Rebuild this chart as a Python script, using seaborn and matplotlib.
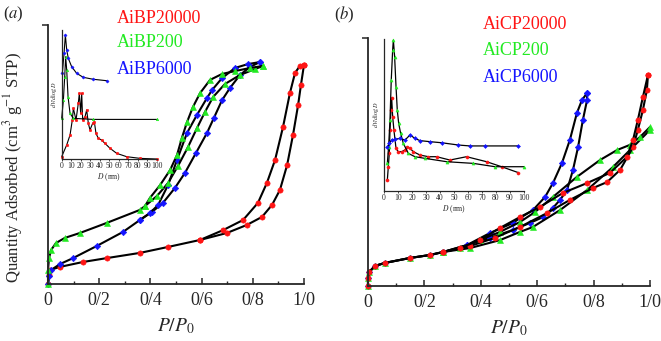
import matplotlib
matplotlib.use("Agg")
import matplotlib.pyplot as plt
import seaborn as sns

sns.set_style("ticks")
plt.rcParams['font.family'] = ['Liberation Serif', 'DejaVu Serif']
plt.rcParams['mathtext.fontset'] = 'stix'

RED = '#ff1414'
GREEN = '#22ea22'
BLUE = '#1414ff'

# ---- panel (a): AiBP isotherms (P/P0, quantity adsorbed, arbitrary units) ----
bp20000_ads_p = [0, 0.004, 0.008, 0.047, 0.137, 0.230, 0.359, 0.469, 0.594, 0.699, 0.777,
                 0.836, 0.875, 0.906, 0.934, 0.957, 0.977, 0.988, 1.0]
bp20000_ads_v = [0, 3.5, 5.4, 6.6, 8.5, 10.0, 12.0, 14.3, 17.0, 19.7, 22.8,
                 25.9, 30.5, 36.3, 45.9, 57.5, 69.1, 76.8, 84.6]
bp20000_des_p = [1.0, 0.984, 0.965, 0.945, 0.918, 0.887, 0.855, 0.820, 0.762, 0.684, 0.594]
bp20000_des_v = [84.6, 84.2, 81.5, 73.7, 60.6, 47.9, 39.0, 31.3, 24.7, 20.8, 17.0]

bp200_ads_p = [0, 0, 0.004, 0.012, 0.031, 0.066, 0.125, 0.230, 0.359, 0.379, 0.426, 0.469,
               0.508, 0.547, 0.582, 0.613, 0.645, 0.691, 0.750, 0.809, 0.840]
bp200_ads_v = [0, 5.4, 10.0, 13.1, 15.8, 17.8, 19.7, 23.6, 28.6, 30.1, 34.0, 39.0,
               45.6, 52.9, 60.2, 66.4, 72.2, 77.2, 80.7, 83.0, 84.2]
bp200_des_p = [0.840, 0.789, 0.730, 0.680, 0.633, 0.594, 0.566, 0.543, 0.523, 0.504,
               0.477, 0.438, 0.398, 0.379]
bp200_des_v = [84.2, 83.4, 82.2, 81.1, 78.8, 73.7, 68.3, 62.5, 56.4, 49.8,
               44.0, 38.2, 33.2, 30.1]

bp6000_ads_p = [0, 0.004, 0.012, 0.047, 0.098, 0.191, 0.293, 0.359, 0.406, 0.449, 0.496,
                0.535, 0.578, 0.621, 0.648, 0.680, 0.711, 0.750, 0.789, 0.828]
bp6000_ads_v = [0, 3.1, 5.4, 7.7, 10.0, 14.7, 20.1, 24.7, 27.8, 31.3, 37.1,
                42.9, 50.6, 58.3, 64.1, 71.0, 75.7, 80.7, 83.8, 85.7]
bp6000_des_p = [0.828, 0.781, 0.730, 0.680, 0.641, 0.621, 0.582, 0.543, 0.504, 0.469,
                0.430, 0.398, 0.359]
bp6000_des_v = [85.7, 84.9, 83.4, 79.5, 74.9, 71.8, 65.3, 58.3, 47.9, 38.2,
                30.5, 27.4, 24.7]

# ---- panel (b): AiCP isotherms ----
low_p = [0, 0, 0.004, 0.025, 0.060, 0.149, 0.220, 0.266]
low_v = [0, 3.2, 5.6, 8.1, 9.3, 11.3, 12.5, 13.7]

cp20000_ads_p = low_p + [0.362, 0.450, 0.539, 0.635, 0.716, 0.798, 0.848, 0.894, 0.940,
                         0.957, 0.975, 0.989, 0.993]
cp20000_ads_v = low_v + [16.1, 19.4, 23.8, 29.4, 34.7, 39.5, 41.9, 46.8, 56.0,
                         62.9, 71.0, 79.0, 85.1]
cp20000_des_p = [0.993, 0.975, 0.957, 0.940, 0.918, 0.858, 0.777, 0.691, 0.610, 0.539,
                 0.468, 0.397, 0.326, 0.266]
cp20000_des_v = [85.1, 76.2, 66.9, 58.9, 52.0, 45.6, 41.5, 37.5, 31.9, 27.8,
                 23.4, 18.5, 15.3, 13.7]

cp200_ads_p = low_p + [0.362, 0.468, 0.539, 0.585, 0.681, 0.777, 0.869, 0.929, 1.0]
cp200_ads_v = low_v + [15.3, 18.5, 21.8, 23.8, 30.6, 38.7, 48.0, 54.8, 62.9]
cp200_des_p = [1.0, 0.965, 0.929, 0.883, 0.823, 0.741, 0.656, 0.592, 0.539, 0.468,
               0.397, 0.326, 0.266]
cp200_des_v = [64.1, 60.1, 56.9, 54.8, 50.8, 44.0, 35.9, 29.8, 25.8, 21.8,
               18.5, 15.3, 13.7]

cp6000_ads_p = low_p + [0.351, 0.433, 0.514, 0.574, 0.621, 0.656, 0.681, 0.706, 0.727,
                        0.745, 0.762, 0.777, 0.777]
cp6000_ads_v = low_v + [16.5, 19.4, 22.6, 25.4, 27.8, 31.5, 34.7, 38.7, 46.8,
                        56.0, 66.9, 75.0, 77.8]
cp6000_des_p = [0.777, 0.759, 0.741, 0.716, 0.688, 0.656, 0.628, 0.585, 0.539, 0.514,
                0.433, 0.351, 0.266]
cp6000_des_v = [77.8, 75.0, 69.8, 58.9, 49.6, 41.5, 35.9, 30.6, 27.4, 25.4,
                21.4, 16.5, 13.7]

# ---- insets: pore size distributions (D in nm, dV/dlogD arbitrary) ----
psd_bp20000_d = [0, 5.3, 8.8, 11.2, 12.3, 15.1, 17.5, 18.6, 20.0, 21.1, 22.1, 24.6, 26.3,
                 28.1, 29.8, 32.6, 34.4, 36.1, 38.6, 42.1, 45.6, 50.9, 57.9, 68.4, 82.5, 100]
psd_bp20000_y = [1.8, 10.9, 18.6, 30.2, 39.3, 30.2, 43.2, 50.9, 35.4, 50.9, 30.2, 32.8, 38.0,
                 27.6, 22.5, 27.6, 28.9, 19.9, 16.0, 14.7, 12.1, 8.3, 4.4, 1.8, 0.5, 0]
psd_bp200_d = [0, 1.8, 3.2, 4.2, 5.3, 6.7, 8.8, 12.3, 33.3, 100]
psd_bp200_y = [31.5, 45.7, 63.8, 79.3, 69.0, 48.3, 35.4, 31.5, 30.7, 30.7]
psd_bp6000_d = [0.7, 2.5, 3.9, 5.3, 7.0, 10.5, 15.8, 22.8, 33.3, 47.4]
psd_bp6000_y = [66.4, 81.9, 96.1, 84.5, 78.0, 71.6, 66.4, 63.3, 61.8, 60.7]

psd_cp20000_d = [2.4, 3.1, 3.8, 4.3, 5.0, 5.5, 6.2, 7.1, 8.6, 10.2, 12.6, 15.0, 16.7, 18.6,
                 21.0, 25.7, 31.7, 37.6, 47.1, 59.0, 73.3, 84.0, 96.0]
psd_cp20000_y = [7.0, 15.8, 24.6, 40.0, 53.2, 60.9, 48.8, 40.0, 27.9, 25.7, 25.7, 26.8, 29.0,
                 27.9, 25.7, 23.5, 22.4, 22.4, 20.2, 22.4, 19.1, 15.8, 11.9]
psd_cp200_d = [2.4, 3.3, 4.3, 5.2, 6.2, 6.7, 7.6, 8.6, 9.5, 10.5, 11.9, 13.8, 17.4, 22.1,
               29.3, 44.8, 63.8, 79.3, 100]
psd_cp200_y = [18.0, 29.0, 46.6, 73.0, 92.7, 99.3, 88.4, 68.6, 53.2, 44.4, 37.8, 31.2, 24.6,
               22.4, 21.3, 19.1, 18.0, 15.8, 15.8]
psd_cp6000_d = [2.4, 3.8, 5.5, 7.9, 11.4, 15.0, 18.6, 22.1, 25.7, 32.9, 41.2, 53.1, 61.4,
                72.1, 96.0]
psd_cp6000_y = [29.0, 31.2, 33.4, 33.8, 34.5, 33.4, 36.7, 34.5, 33.0, 32.3, 31.6, 30.1, 29.5,
                29.5, 29.5]

ticks_main = [0, 0.2, 0.4, 0.6, 0.8, 1.0]
tick_labels_main = ["0", "0/2", "0/4", "0/6", "0/8", "1/0"]
ticks_inset = list(range(0, 101, 10))


def draw_curve(ax, x, y, color, marker, lw=1.5, ms=3.8):
    sns.lineplot(x=x, y=y, ax=ax, sort=False, estimator=None, color="black", lw=lw,
                 marker=marker, ms=ms, mfc=color, mec=color, mew=0.4, clip_on=False)


def style_main(ax):
    ax.set_xlim(0, 1.0)
    ax.set_ylim(0, 100)
    ax.set_xticks(ticks_main)
    ax.set_xticklabels(tick_labels_main, fontsize=13)
    ax.set_xticks([0.1, 0.3, 0.5, 0.7, 0.9], minor=True)
    ax.set_yticks([100])
    ax.set_yticklabels([])
    ax.tick_params(axis="x", which="major", direction="in", length=4, width=1.1, pad=6)
    ax.tick_params(axis="x", which="minor", direction="in", length=2.5, width=1.0)
    ax.tick_params(axis="y", direction="out", length=4, width=1.1)
    for s in ["left", "bottom"]:
        ax.spines[s].set_linewidth(1.3)
    sns.despine(ax=ax)
    ax.set_xlabel(r"$P/P_0$", fontsize=14, labelpad=5)
    ax.set_ylabel("")


def style_inset(ax):
    ax.set_xlim(0, 100)
    ax.set_ylim(0, 100)
    ax.set_xticks(ticks_inset)
    ax.set_xticklabels([str(t) for t in ticks_inset], fontsize=5.5)
    ax.set_yticks([])
    ax.tick_params(axis="x", direction="out", length=1.5, width=0.6, pad=1)
    ax.patch.set_alpha(0)
    for s in ["left", "bottom"]:
        ax.spines[s].set_linewidth(0.9)
    sns.despine(ax=ax)
    ax.set_xlabel(r"$D$ (nm)", fontsize=5.5, labelpad=1)
    ax.set_ylabel(r"$dV/d\log D$", fontsize=4.5, labelpad=2)


fig = plt.figure(figsize=(6.61, 3.41), dpi=100)
ax_a = fig.add_axes([0.0726, 0.1672, 0.3873, 0.7595])
ax_b = fig.add_axes([0.5567, 0.1613, 0.4266, 0.7273])
in_a = fig.add_axes([0.0933, 0.5337, 0.1437, 0.3783])
in_b = fig.add_axes([0.5809, 0.4408, 0.2118, 0.4449])

# panel (a)
draw_curve(ax_a, bp20000_ads_p, bp20000_ads_v, RED, "o")
draw_curve(ax_a, bp20000_des_p, bp20000_des_v, RED, "o")
draw_curve(ax_a, bp6000_ads_p, bp6000_ads_v, BLUE, "D", ms=3.3)
draw_curve(ax_a, bp6000_des_p, bp6000_des_v, BLUE, "D", ms=3.3)
draw_curve(ax_a, bp200_ads_p, bp200_ads_v, GREEN, "^")
draw_curve(ax_a, bp200_des_p, bp200_des_v, GREEN, "^")
style_main(ax_a)

# panel (b)
draw_curve(ax_b, cp6000_ads_p, cp6000_ads_v, BLUE, "D", ms=3.3)
draw_curve(ax_b, cp6000_des_p, cp6000_des_v, BLUE, "D", ms=3.3)
draw_curve(ax_b, cp200_ads_p, cp200_ads_v, GREEN, "^")
draw_curve(ax_b, cp200_des_p, cp200_des_v, GREEN, "^")
draw_curve(ax_b, cp20000_ads_p, cp20000_ads_v, RED, "o")
draw_curve(ax_b, cp20000_des_p, cp20000_des_v, RED, "o")
style_main(ax_b)

# insets
draw_curve(in_a, psd_bp20000_d, psd_bp20000_y, RED, "o", lw=0.8, ms=1.8)
draw_curve(in_a, psd_bp200_d, psd_bp200_y, GREEN, "^", lw=0.8, ms=1.8)
draw_curve(in_a, psd_bp6000_d, psd_bp6000_y, BLUE, "D", lw=0.8, ms=1.6)
style_inset(in_a)

draw_curve(in_b, psd_cp20000_d, psd_cp20000_y, RED, "o", lw=0.9, ms=2.2)
draw_curve(in_b, psd_cp200_d, psd_cp200_y, GREEN, "^", lw=0.9, ms=2.2)
draw_curve(in_b, psd_cp6000_d, psd_cp6000_y, BLUE, "D", lw=0.9, ms=2.0)
style_inset(in_b)

# sample names as coloured text
for txt, col, y in [("AiBP20000", RED, 0.947), ("AiBP200", GREEN, 0.874), ("AiBP6000", BLUE, 0.795)]:
    fig.text(0.177, y, txt, color=col, fontsize=13, va="center", ha="left")
for txt, col, y in [("AiCP20000", RED, 0.927), ("AiCP200", GREEN, 0.853), ("AiCP6000", BLUE, 0.774)]:
    fig.text(0.731, y, txt, color=col, fontsize=13, va="center", ha="left")

fig.text(0.02, 0.51, r"Quantity Adsorbed (cm$^3$ g$^{-1}$ STP)", rotation=90,
         fontsize=12, va="center", ha="center")
fig.text(0.005, 0.985, r"($a$)", fontsize=12, va="top", ha="left")
fig.text(0.505, 0.985, r"($b$)", fontsize=12, va="top", ha="left")

fig.savefig("out.png", dpi=100)
